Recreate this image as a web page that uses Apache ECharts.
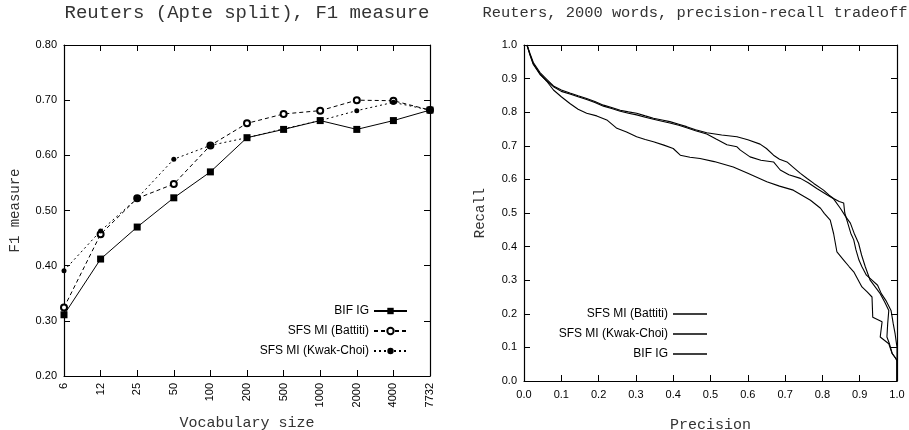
<!DOCTYPE html>
<html>
<head>
<meta charset="utf-8">
<script src="https://cdn.jsdelivr.net/npm/echarts@6/dist/echarts.min.js"></script>
<style>
html,body{margin:0;padding:0;background:#fff;}
#left{position:absolute;left:0;top:0;width:455px;height:430px;}
#right{position:absolute;left:455px;top:0;width:454px;height:430px;}
</style>
</head>
<body>
<div id="left"></div>
<div id="right"></div>
<script>
// ---- Left chart data ----
const vocabSizes = ['6','12','25','50','100','200','500','1000','2000','4000','7732'];
const bifIG_F1   = [0.311,0.412,0.470,0.523,0.570,0.632,0.647,0.663,0.647,0.663,0.682];
const battiti_F1 = [0.324,0.457,0.522,0.548,0.618,0.658,0.675,0.681,0.700,0.699,0.682];
const kwakChoi_F1= [0.391,0.463,0.522,0.593,0.618,0.632,0.648,0.663,0.681,0.696,0.682];
const f1Ticks = [0.2,0.8,0.1]; // min, max, step

// ---- Right chart data: [precision, recall] ----
const battitiPR = [[0.008,1.0],[0.016,0.975],[0.025,0.948],[0.043,0.918],[0.061,0.898],[0.079,0.878],[0.1,0.866],[0.123,0.857],[0.145,0.849],[0.168,0.841],[0.19,0.832],[0.213,0.821],[0.235,0.814],[0.258,0.806],[0.28,0.801],[0.302,0.797],[0.325,0.789],[0.347,0.782],[0.37,0.777],[0.391,0.772],[0.415,0.764],[0.436,0.757],[0.46,0.748],[0.49,0.739],[0.53,0.732],[0.571,0.727],[0.6,0.718],[0.633,0.705],[0.65,0.692],[0.669,0.672],[0.685,0.66],[0.705,0.652],[0.722,0.636],[0.741,0.618],[0.76,0.602],[0.777,0.588],[0.803,0.568],[0.818,0.553],[0.83,0.543],[0.845,0.534],[0.857,0.53],[0.86,0.5],[0.868,0.47],[0.876,0.44],[0.884,0.42],[0.89,0.39],[0.898,0.36],[0.906,0.34],[0.918,0.315],[0.933,0.3],[0.948,0.285],[0.958,0.26],[0.97,0.24],[0.984,0.21],[0.99,0.17],[0.995,0.14],[1.0,0.1],[1.0,0.0]];
const kwakChoiPR = [[0.008,1.0],[0.016,0.97],[0.025,0.942],[0.043,0.912],[0.061,0.893],[0.079,0.876],[0.1,0.862],[0.123,0.854],[0.145,0.846],[0.168,0.838],[0.19,0.829],[0.213,0.818],[0.235,0.811],[0.258,0.803],[0.28,0.797],[0.302,0.792],[0.325,0.785],[0.347,0.779],[0.37,0.773],[0.391,0.768],[0.415,0.761],[0.436,0.754],[0.46,0.745],[0.49,0.735],[0.515,0.72],[0.544,0.703],[0.571,0.697],[0.58,0.687],[0.606,0.667],[0.635,0.657],[0.669,0.652],[0.687,0.628],[0.71,0.614],[0.741,0.603],[0.762,0.59],[0.785,0.573],[0.81,0.556],[0.83,0.542],[0.848,0.514],[0.862,0.49],[0.875,0.47],[0.885,0.44],[0.897,0.41],[0.905,0.375],[0.915,0.34],[0.928,0.3],[0.945,0.275],[0.955,0.26],[0.967,0.235],[0.978,0.21],[0.975,0.17],[0.973,0.131],[0.98,0.11],[0.987,0.082],[0.995,0.07],[1.0,0.06],[1.0,0.0]];
const bifIGPR = [[0.008,1.0],[0.016,0.972],[0.025,0.944],[0.043,0.914],[0.061,0.892],[0.079,0.866],[0.1,0.846],[0.123,0.826],[0.145,0.809],[0.168,0.797],[0.195,0.789],[0.222,0.777],[0.249,0.752],[0.275,0.741],[0.302,0.727],[0.325,0.719],[0.347,0.712],[0.375,0.702],[0.4,0.692],[0.419,0.672],[0.445,0.666],[0.472,0.662],[0.51,0.653],[0.561,0.637],[0.6,0.618],[0.651,0.593],[0.685,0.58],[0.722,0.568],[0.745,0.553],[0.768,0.538],[0.795,0.514],[0.805,0.499],[0.821,0.479],[0.83,0.439],[0.839,0.384],[0.857,0.36],[0.872,0.34],[0.884,0.325],[0.906,0.28],[0.92,0.265],[0.933,0.25],[0.935,0.19],[0.96,0.176],[0.955,0.131],[0.978,0.111],[0.987,0.082],[1.0,0.062],[1.0,0.0]];
const prTicks = [0,1,0.1];

const MONO = 'Liberation Mono';
const SANS = 'Liberation Sans';

function frameAxis(extra){
  return Object.assign({
    axisLine:{show:true,onZero:false,lineStyle:{color:'#000',width:1.2}},
    axisTick:{show:true,inside:true,length:6,lineStyle:{color:'#000',width:1}},
    axisLabel:{show:false},
    splitLine:{show:false}
  }, extra);
}

// ---- Left chart ----
const left = echarts.init(document.getElementById('left'), null, {renderer:'canvas'});
left.setOption({
  animation:false,
  backgroundColor:'#fff',
  title:{text:'Reuters (Apte split), F1 measure',left:247,top:3,textAlign:'center',padding:0,
    textStyle:{fontFamily:MONO,fontWeight:'normal',fontSize:19,color:'#333'}},
  grid:{left:64,top:45,width:366,height:331,containLabel:false,outerBoundsMode:'none'},
  legend:{orient:'vertical',align:'right',right:47,top:305,padding:0,itemWidth:33,itemHeight:8,itemGap:8,
    textStyle:{fontFamily:SANS,fontSize:12,color:'#000'},
    data:['BIF IG','SFS MI (Battiti)','SFS MI (Kwak-Choi)']},
  xAxis:[
    frameAxis({type:'category',data:vocabSizes,boundaryGap:false,position:'bottom',
      axisTick:{show:true,inside:true,length:6,alignWithLabel:true,interval:0,lineStyle:{color:'#000'}},
      axisLabel:{show:true,rotate:90,interval:0,fontFamily:SANS,fontSize:11,color:'#000',margin:7},
      name:'Vocabulary size',nameLocation:'middle',nameGap:40,
      nameTextStyle:{fontFamily:MONO,fontSize:15,color:'#333'}}),
    frameAxis({type:'category',data:vocabSizes,boundaryGap:false,position:'top',
      axisTick:{show:true,inside:true,length:6,alignWithLabel:true,interval:0,lineStyle:{color:'#000'}}})
  ],
  yAxis:[
    frameAxis({type:'value',min:f1Ticks[0],max:f1Ticks[1],interval:f1Ticks[2],position:'left',
      axisLabel:{show:true,formatter:v=>v.toFixed(2),fontFamily:SANS,fontSize:11,color:'#000',margin:7},
      name:'F1 measure',nameLocation:'middle',nameGap:42,
      nameTextStyle:{fontFamily:MONO,fontSize:14,color:'#333'}}),
    frameAxis({type:'value',min:f1Ticks[0],max:f1Ticks[1],interval:f1Ticks[2],position:'right'})
  ],
  series:[
    {name:'BIF IG',type:'line',data:bifIG_F1,symbol:'rect',symbolSize:7,
      lineStyle:{color:'#000',width:1,type:'solid'},itemStyle:{color:'#000'}},
    {name:'SFS MI (Battiti)',type:'line',data:battiti_F1,symbol:'emptyCircle',symbolSize:6,
      lineStyle:{color:'#000',width:1,type:[4,3]},itemStyle:{color:'#000',borderColor:'#000',borderWidth:1}},
    {name:'SFS MI (Kwak-Choi)',type:'line',data:kwakChoi_F1,symbol:'circle',symbolSize:5,
      lineStyle:{color:'#000',width:1,type:[2,3]},itemStyle:{color:'#000'}}
  ]
});

// ---- Right chart ----
const right = echarts.init(document.getElementById('right'), null, {renderer:'canvas'});
right.setOption({
  animation:false,
  backgroundColor:'#fff',
  title:{text:'Reuters, 2000 words, precision-recall tradeoff',left:240,top:5,textAlign:'center',padding:0,
    textStyle:{fontFamily:MONO,fontWeight:'normal',fontSize:15.4,color:'#333'}},
  grid:{left:69,top:45,width:373,height:336,containLabel:false,outerBoundsMode:'none'},
  legend:{orient:'vertical',align:'right',right:202,top:307,padding:0,itemWidth:34,itemHeight:1.5,itemGap:6,
    icon:'rect',itemStyle:{color:'#000'},
    textStyle:{fontFamily:SANS,fontSize:12,color:'#000',lineHeight:14},
    data:['SFS MI (Battiti)','SFS MI (Kwak-Choi)','BIF IG']},
  xAxis:[
    frameAxis({type:'value',min:prTicks[0],max:prTicks[1],interval:prTicks[2],position:'bottom',
      axisLabel:{show:true,formatter:v=>v.toFixed(1),fontFamily:SANS,fontSize:11,color:'#000',margin:8},
      name:'Precision',nameLocation:'middle',nameGap:37,
      nameTextStyle:{fontFamily:MONO,fontSize:15,color:'#333'}}),
    frameAxis({type:'value',min:prTicks[0],max:prTicks[1],interval:prTicks[2],position:'top'})
  ],
  yAxis:[
    frameAxis({type:'value',min:prTicks[0],max:prTicks[1],interval:prTicks[2],position:'left',
      axisLabel:{show:true,formatter:v=>v.toFixed(1),fontFamily:SANS,fontSize:11,color:'#000',margin:7},
      name:'Recall',nameLocation:'middle',nameGap:37,
      nameTextStyle:{fontFamily:MONO,fontSize:14,color:'#333'}}),
    frameAxis({type:'value',min:prTicks[0],max:prTicks[1],interval:prTicks[2],position:'right'})
  ],
  series:[
    {name:'SFS MI (Battiti)',type:'line',data:battitiPR,symbol:'none',
      lineStyle:{color:'#000',width:1.1},itemStyle:{color:'#000'}},
    {name:'SFS MI (Kwak-Choi)',type:'line',data:kwakChoiPR,symbol:'none',
      lineStyle:{color:'#000',width:1.1},itemStyle:{color:'#000'}},
    {name:'BIF IG',type:'line',data:bifIGPR,symbol:'none',
      lineStyle:{color:'#000',width:1.1},itemStyle:{color:'#000'}}
  ]
});
</script>
</body>
</html>
